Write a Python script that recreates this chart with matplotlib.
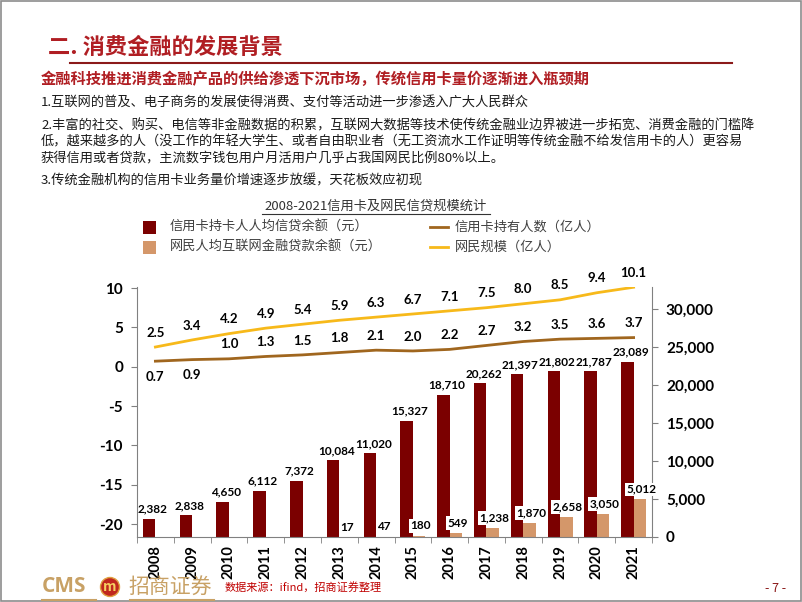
import matplotlib
matplotlib.use("Agg")
import matplotlib.pyplot as plt
import numpy as np
from matplotlib.patches import Rectangle, Ellipse
from matplotlib.lines import Line2D

plt.rcParams['font.family'] = ['Noto Sans CJK SC', 'DejaVu Sans']

# data
years = ['2008', '2009', '2010', '2011', '2012', '2013', '2014', '2015',
         '2016', '2017', '2018', '2019', '2020', '2021']
card_credit = [2382, 2838, 4650, 6112, 7372, 10084, 11020, 15327,
               18710, 20262, 21397, 21802, 21787, 23089]
net_loan = [np.nan, np.nan, np.nan, np.nan, np.nan, 17, 47, 180,
            549, 1238, 1870, 2658, 3050, 5012]
card_holders = [0.7, 0.9, 1.0, 1.3, 1.5, 1.8, 2.1, 2.0, 2.2, 2.7, 3.2, 3.5, 3.6, 3.7]
netizens = [2.5, 3.4, 4.2, 4.9, 5.4, 5.9, 6.3, 6.7, 7.1, 7.5, 8.0, 8.5, 9.4, 10.1]
left_ticks = [10, 5, 0, -5, -10, -15, -20]
right_ticks = [0, 5000, 10000, 15000, 20000, 25000, 30000]

RED = '#7B0000'
TAN = '#D4976A'
BROWN = '#A0661E'
YELLOW = '#F7B91A'
TITLE_RED = '#B01E23'
NUM_FONT = ['Lato', 'DejaVu Sans']

W, H = 802, 602
fig = plt.figure(figsize=(8.02, 6.02), dpi=100)

def fx(px):
    return px / W

def fy(py):
    return 1 - py / H

# slide border
fig.patches.append(Rectangle((0.001, 0.001), 0.998, 0.997, transform=fig.transFigure,
                             fill=False, edgecolor='#8c8c8c', linewidth=1.2))

# header
fig.text(fx(48), fy(47), '二. 消费金融的发展背景', color=TITLE_RED, fontsize=16,
         fontweight='bold', va='center', ha='left')
fig.add_artist(Line2D([fx(70), fx(732)], [fy(63), fy(63)], color='#8B1A1A',
                      linewidth=1.5, transform=fig.transFigure))
fig.text(fx(41), fy(79), '金融科技推进消费金融产品的供给渗透下沉市场，传统信用卡量价逐渐进入瓶颈期',
         color=TITLE_RED, fontsize=11, fontweight='bold', va='center', ha='left')

body = [
    (102, '1.互联网的普及、电子商务的发展使得消费、支付等活动进一步渗透入广大人民群众'),
    (126, '2.丰富的社交、购买、电信等非金融数据的积累，互联网大数据等技术使传统金融业边界被进一步拓宽、消费金融的门槛降'),
    (142, '低，越来越多的人（没工作的年轻大学生、或者自由职业者（无工资流水工作证明等传统金融不给发信用卡的人）更容易'),
    (158, '获得信用或者贷款，主流数字钱包用户月活用户几乎占我国网民比例80%以上。'),
    (181, '3.传统金融机构的信用卡业务量价增速逐步放缓，天花板效应初现'),
]
for y, t in body:
    fig.text(fx(41), fy(y), t, color='#1a1a1a', fontsize=9.5, va='center', ha='left')

# chart title (underlined)
fig.text(fx(376), fy(206), '2008-2021信用卡及网民信贷规模统计', color='#333333',
         fontsize=9.5, va='center', ha='center')
fig.add_artist(Line2D([fx(262), fx(490)], [fy(214), fy(214)], color='#333333',
                      linewidth=0.8, transform=fig.transFigure))

# legend
fig.patches.append(Rectangle((fx(143), fy(234)), fx(13), 13 / H, transform=fig.transFigure,
                             facecolor=RED, edgecolor='none'))
fig.patches.append(Rectangle((fx(143), fy(254)), fx(13), 13 / H, transform=fig.transFigure,
                             facecolor=TAN, edgecolor='none'))
fig.text(fx(170), fy(227), '信用卡持卡人人均信贷余额（元）', color='#404040', fontsize=9.5, va='center')
fig.text(fx(170), fy(247), '网民人均互联网金融贷款余额（元）', color='#404040', fontsize=9.5, va='center')
fig.add_artist(Line2D([fx(430), fx(448)], [fy(227), fy(227)], color=BROWN, linewidth=2,
                      transform=fig.transFigure))
fig.add_artist(Line2D([fx(430), fx(448)], [fy(247), fy(247)], color=YELLOW, linewidth=2,
                      transform=fig.transFigure))
fig.text(fx(455), fy(227), '信用卡持有人数（亿人）', color='#404040', fontsize=9.5, va='center')
fig.text(fx(455), fy(247), '网民规模（亿人）', color='#404040', fontsize=9.5, va='center')

# chart axes
ax = fig.add_axes([fx(137), fy(537), fx(652 - 137), (537 - 287) / H])
ax2 = ax.twinx()
ax.set_zorder(ax2.get_zorder() + 1)
ax.patch.set_visible(False)

x = np.arange(len(years))
bw = 0.34
ax2.bar(x - bw / 2, card_credit, width=bw, color=RED, zorder=2)
ax2.bar(x + bw / 2, net_loan, width=bw, color=TAN, zorder=2)
ax2.set_ylim(0, 32900)
ax2.set_yticks(right_ticks)
ax2.set_yticklabels([f'{v:,}' for v in right_ticks], fontsize=11, fontweight='bold',
                    family=NUM_FONT)

for i, v in enumerate(card_credit):
    ax2.annotate(f'{v:,}', (x[i] - 0.08, v), xytext=(0, 3), textcoords='offset points',
                 ha='center', va='bottom', fontsize=8.5, fontweight='bold',
                 family=NUM_FONT, zorder=5)
for i, v in enumerate(net_loan):
    if np.isnan(v):
        continue
    ax2.annotate(f'{v:,.0f}', (x[i] + bw / 2, v), xytext=(1, 3), textcoords='offset points',
                 ha='center', va='bottom', fontsize=8.5, fontweight='bold',
                 family=NUM_FONT, zorder=5,
                 bbox=dict(boxstyle='square,pad=0.1', facecolor='white', edgecolor='none'))

ax.plot(x, netizens, color=YELLOW, linewidth=2, zorder=3)
ax.plot(x, card_holders, color=BROWN, linewidth=2, zorder=3)
for i, v in enumerate(netizens):
    ax.annotate(f'{v:.1f}', (x[i], v), xytext=(0, 6), textcoords='offset points',
                ha='center', va='bottom', fontsize=9.5, fontweight='bold',
                family=NUM_FONT, annotation_clip=False)
for i, v in enumerate(card_holders):
    off = (0, -7) if i < 2 else (0, 6)
    ax.annotate(f'{v:.1f}', (x[i], v), xytext=off, textcoords='offset points',
                ha='center', va='top' if i < 2 else 'bottom', fontsize=9.5,
                fontweight='bold', family=NUM_FONT)

ax.set_ylim(-21.65, 10.13)
ax.set_xlim(-0.5, len(years) - 0.5)
ax.set_yticks(left_ticks)
ax.set_yticklabels([str(v) for v in left_ticks], fontsize=11, fontweight='bold',
                   family=NUM_FONT)
ax.set_xticks(x)
ax.set_xticklabels(years, rotation=90, fontsize=10.5, fontweight='bold', family=NUM_FONT)
ax.set_xticks(np.arange(len(years) + 1) - 0.5, minor=True)
ax.tick_params(axis='x', which='major', length=0, pad=6)
ax.tick_params(axis='x', which='minor', length=4, color='#808080')
ax.tick_params(axis='y', length=4, color='#808080', pad=6)
ax2.tick_params(axis='y', length=4, color='#808080', pad=6)

for a in (ax, ax2):
    a.spines['top'].set_visible(False)
    for s in ('left', 'right', 'bottom'):
        a.spines[s].set_color('#808080')
ax.spines['right'].set_visible(False)
ax2.spines['left'].set_visible(False)
ax2.spines['bottom'].set_visible(False)

# footer
fig.text(fx(42), fy(587), 'CMS', color='#C8A165', fontsize=15, fontweight='bold',
         va='center', ha='left', family=['Open Sans', 'DejaVu Sans'])
fig.patches.append(Ellipse((fx(110), fy(587)), 19 / W, 19 / H, transform=fig.transFigure,
                           facecolor='#C0281E', edgecolor='#E0A040', linewidth=1))
fig.text(fx(110), fy(587), 'm', color='#F5D060', fontsize=10, fontweight='bold',
         fontstyle='italic', va='center', ha='center')
fig.text(fx(128), fy(587), '招商证券', color='#C8A165', fontsize=15, va='center', ha='left')
fig.add_artist(Line2D([fx(42), fx(96)], [fy(600), fy(600)], color='#C8A165', linewidth=1.5,
                      transform=fig.transFigure))
fig.add_artist(Line2D([fx(130), fx(214)], [fy(600), fy(600)], color='#C8A165', linewidth=1.5,
                      transform=fig.transFigure))
fig.text(fx(225), fy(587), '数据来源：ifind，招商证券整理', color='#C00000', fontsize=8,
         va='center', ha='left')
fig.text(fx(776), fy(588), '- 7 -', color='#8B1A1A', fontsize=9, va='center', ha='center')

fig.savefig('out.png', dpi=100)
